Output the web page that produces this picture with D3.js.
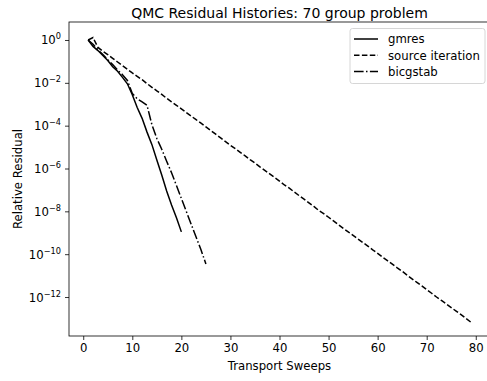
<!DOCTYPE html>
<html lang="en">
<head>
<meta charset="UTF-8">
<title>QMC Residual Histories</title>
<script src="https://d3js.org/d3.v7.min.js"></script>
<style>
    body { margin: 0; background: #fff; }
    svg { display: block; font-family: "DejaVu Sans", sans-serif; }
</style>
</head>
<body>
<svg id="chart" width="487" height="381"></svg>
<script>
// data
const gmresSweeps = d3.range(1, 21);
const gmresResidual = [1.0, 5.0e-1, 3.2e-1, 1.9e-1, 1.1e-1, 5.6e-2, 3.5e-2, 1.8e-2, 9.0e-3, 2.8e-3,
    7.1e-4, 2.2e-4, 5.0e-5, 1.3e-5, 2.5e-6, 5.0e-7, 8.9e-8, 2.0e-8, 5.0e-9, 1.1e-9];

const siSweeps = d3.range(1, 80);
const siResidual = [1.0, 1.3, 4.5e-1, 3.0e-1, 2.1e-1, 1.4e-1, 9.4e-2, 6.4e-2, 4.3e-2, 2.9e-2,
    2.0e-2, 1.4e-2, 9.2e-3, 6.2e-3, 4.2e-3, 2.9e-3, 1.9e-3, 1.3e-3, 8.9e-4, 6.1e-4,
    4.1e-4, 2.8e-4, 1.9e-4, 1.3e-4, 8.7e-5, 5.9e-5, 4.0e-5, 2.7e-5, 1.8e-5, 1.2e-5,
    8.4e-6, 5.7e-6, 3.9e-6, 2.6e-6, 1.8e-6, 1.2e-6, 8.2e-7, 5.6e-7, 3.8e-7, 2.6e-7,
    1.7e-7, 1.2e-7, 8.0e-8, 5.4e-8, 3.7e-8, 2.5e-8, 1.7e-8, 1.1e-8, 7.8e-9, 5.3e-9,
    3.6e-9, 2.4e-9, 1.6e-9, 1.1e-9, 7.5e-10, 5.1e-10, 3.5e-10, 2.4e-10, 1.6e-10, 1.1e-10,
    7.3e-11, 5.0e-11, 3.4e-11, 2.3e-11, 1.6e-11, 1.05e-11, 7.1e-12, 4.8e-12, 3.3e-12, 2.2e-12,
    1.5e-12, 1.0e-12, 6.9e-13, 4.7e-13, 3.2e-13, 2.2e-13, 1.5e-13, 1.0e-13, 6.7e-14];

const bicgSweeps = d3.range(1, 26);
const bicgResidual = [1.0, 6.3e-1, 3.5e-1, 2.1e-1, 1.2e-1, 7.1e-2, 4.0e-2, 2.4e-2, 1.3e-2, 3.2e-3,
    1.8e-3, 1.3e-3, 8.9e-4, 1.1e-4, 2.5e-5, 7.9e-6, 2.2e-6, 6.3e-7, 1.6e-7, 4.0e-8,
    1.0e-8, 2.5e-9, 6.3e-10, 1.6e-10, 3.5e-11];

const seriesNames = ["gmres", "source iteration", "bicgstab"];
const xTicks = [0, 10, 20, 30, 40, 50, 60, 70, 80];
const yTickExps = [0, -2, -4, -6, -8, -10, -12];

const margin = {left: 69, top: 22, right: 490, bottom: 336};
const fs = 11.7;
const svg = d3.select("#chart");

const x = d3.scaleLinear().domain([-2.9, 82.9]).range([margin.left, margin.right]);
const y = d3.scaleLog().domain([Math.pow(10, 0.84), Math.pow(10, -13.82)]).range([margin.top, margin.bottom]);

// frame
svg.append("rect")
    .attr("x", margin.left).attr("y", margin.top)
    .attr("width", margin.right - margin.left).attr("height", margin.bottom - margin.top)
    .attr("fill", "none").attr("stroke", "#000").attr("stroke-width", 0.8);

// x axis
const xAxis = svg.append("g").attr("transform", `translate(0,${margin.bottom})`)
    .call(d3.axisBottom(x).tickValues(xTicks).tickSize(4).tickPadding(3.5));
xAxis.select(".domain").remove();
xAxis.selectAll("line").attr("stroke-width", 0.8);
xAxis.selectAll("text").attr("font-size", fs).attr("fill", "#000")
    .attr("font-family", "DejaVu Sans");

// y axis
const yAxis = svg.append("g").attr("transform", `translate(${margin.left},0)`)
    .call(d3.axisLeft(y).tickValues(yTickExps.map(e => Math.pow(10, e))).tickSize(4).tickFormat(""));
yAxis.select(".domain").remove();
yAxis.selectAll("line").attr("stroke-width", 0.8);

yTickExps.forEach(e => {
    const t = svg.append("text")
        .attr("x", margin.left - 8)
        .attr("y", y(Math.pow(10, e)) + 4.5)
        .attr("text-anchor", "end")
        .attr("font-size", fs);
    t.append("tspan").text("10");
    t.append("tspan").attr("dy", -5).attr("font-size", 8.2)
        .text(e === 0 ? "0" : "\u2212" + Math.abs(e));
});

// series
const dashes = ["none", "5.5,2.4", "9.6,2.4,1.5,2.4"];
const line = d3.line().x(d => x(d[0])).y(d => y(d[1]));
const series = [
    d3.zip(gmresSweeps, gmresResidual),
    d3.zip(siSweeps, siResidual),
    d3.zip(bicgSweeps, bicgResidual)
];
series.forEach((s, i) => {
    svg.append("path").datum(s)
        .attr("d", line)
        .attr("fill", "none")
        .attr("stroke", "#000")
        .attr("stroke-width", 1.5)
        .attr("stroke-dasharray", dashes[i]);
});

// labels
svg.append("text").attr("x", (margin.left + margin.right) / 2).attr("y", 17.5)
    .attr("text-anchor", "middle").attr("font-size", 14).text("QMC Residual Histories: 70 group problem");
svg.append("text").attr("x", (margin.left + margin.right) / 2).attr("y", 369.5)
    .attr("text-anchor", "middle").attr("font-size", fs).text("Transport Sweeps");
svg.append("text").attr("transform", "translate(22,179) rotate(-90)")
    .attr("text-anchor", "middle").attr("font-size", fs).text("Relative Residual");

// legend
const lg = svg.append("g");
lg.append("rect").attr("x", 350).attr("y", 28.5).attr("width", 135).attr("height", 55)
    .attr("rx", 2.5).attr("fill", "#fff").attr("fill-opacity", 0.8)
    .attr("stroke", "#ccc").attr("stroke-width", 0.8);
seriesNames.forEach((name, i) => {
    const yy = 39 + i * 16.3;
    lg.append("line").attr("x1", 354).attr("x2", 378).attr("y1", yy).attr("y2", yy)
        .attr("stroke", "#000").attr("stroke-width", 1.5).attr("stroke-dasharray", dashes[i]);
    lg.append("text").attr("x", 388).attr("y", yy + 4.2).attr("font-size", fs).text(name);
});
</script>
</body>
</html>
